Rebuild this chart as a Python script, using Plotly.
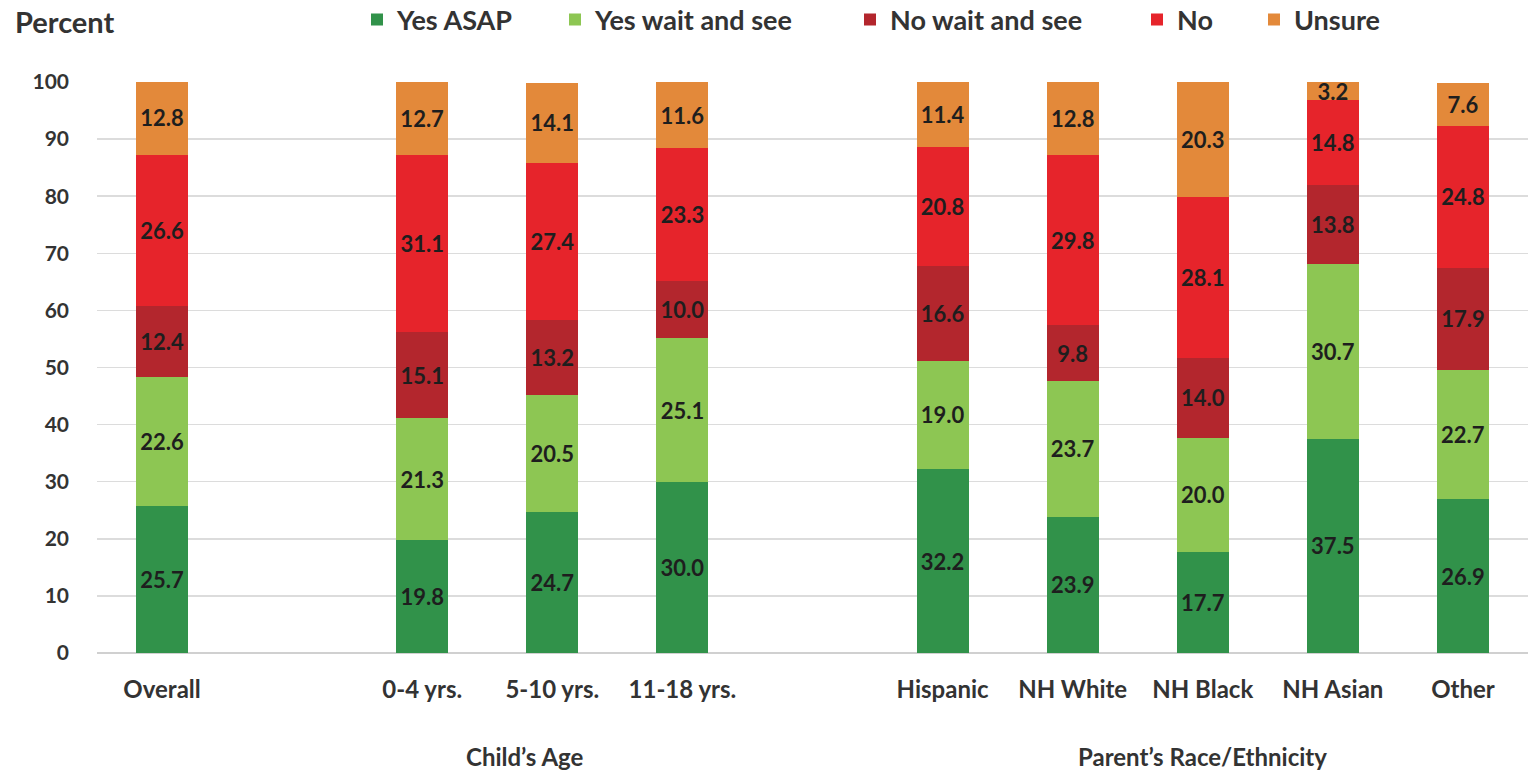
import plotly.graph_objects as go

categories = ["Overall", "0-4 yrs.", "5-10 yrs.", "11-18 yrs.",
              "Hispanic", "NH White", "NH Black", "NH Asian", "Other"]
slots = [0, 2, 3, 4, 6, 7, 8, 9, 10]

yes_asap = [25.7, 19.8, 24.7, 30.0, 32.2, 23.9, 17.7, 37.5, 26.9]
yes_wait = [22.6, 21.3, 20.5, 25.1, 19.0, 23.7, 20.0, 30.7, 22.7]
no_wait = [12.4, 15.1, 13.2, 10.0, 16.6, 9.8, 14.0, 13.8, 17.9]
no_vals = [26.6, 31.1, 27.4, 23.3, 20.8, 29.8, 28.1, 14.8, 24.8]
unsure = [12.8, 12.7, 14.1, 11.6, 11.4, 12.8, 20.3, 3.2, 7.6]

series_names = ["Yes ASAP", "Yes wait and see", "No wait and see", "No", "Unsure"]
series_values = [yes_asap, yes_wait, no_wait, no_vals, unsure]
colors = ["#31924A", "#8DC653", "#B3262D", "#E6242B", "#E3893A"]

group_labels = ["Child\u2019s Age", "Parent\u2019s Race/Ethnicity"]
group_centers = [2.79, 8]

# legend item left edges (pixels) for each separate legend box
legend_lefts = [357, 555, 850, 1137, 1254]

FONT = "Lato"
TXT = "#333333"
W, H = 1528, 770
ML, MR, MT, MB = 97, 0, 82, 117
PW = W - ML - MR
PH = H - MT - MB

fig = go.Figure()
legend_layout = {}
for i, (name, vals, col) in enumerate(zip(series_names, series_values, colors)):
    lname = "legend" if i == 0 else f"legend{i + 1}"
    fig.add_trace(go.Bar(
        x=slots, y=vals, name=name, width=0.4,
        marker=dict(color=col, line=dict(width=0)),
        text=[f"{v:.1f}" for v in vals],
        textposition="inside", insidetextanchor="middle",
        textfont=dict(family=FONT, size=22, color="#1E1E1E", weight="bold"),
        hoverinfo="skip", legend=lname, showlegend=True,
    ))
    legend_layout[lname] = dict(
        orientation="h", x=(legend_lefts[i] - ML) / PW, xanchor="left",
        y=(PH + MT - 20) / PH, yanchor="middle",
        font=dict(family=FONT, size=27, color=TXT, weight="bold"),
        bgcolor="rgba(0,0,0,0)", visible=True,
    )

fig.update_layout(
    barmode="stack",
    width=W, height=H,
    showlegend=True,
    margin=dict(l=ML, r=MR, t=MT, b=MB, autoexpand=False),
    plot_bgcolor="white", paper_bgcolor="white",
    uniformtext=dict(minsize=22, mode="show"),
    font=dict(family=FONT, color=TXT),
    xaxis=dict(range=[-0.5, 10.5], tickvals=slots, ticktext=categories,
               showgrid=False, zeroline=False, showline=False, ticks="",
               tickfont=dict(family=FONT, size=24, color=TXT, weight="bold"),
               ticklabelstandoff=20, fixedrange=True),
    yaxis=dict(range=[0, 100], dtick=10, showgrid=True, gridcolor="#DCDCDC",
               gridwidth=1.5, zeroline=True, zerolinecolor="#D0D0D0", zerolinewidth=2,
               tickfont=dict(family=FONT, size=21, color=TXT, weight="bold"),
               ticklabelstandoff=27, fixedrange=True),
    **legend_layout,
)

fig.add_annotation(text="Percent", xref="paper", yref="paper", x=(13 - ML) / PW,
                   y=(PH + MT - 22) / PH,
                   xanchor="left", yanchor="middle", showarrow=False,
                   font=dict(family=FONT, size=29, color=TXT, weight="bold"))
for lab, cx in zip(group_labels, group_centers):
    fig.add_annotation(text=lab, x=cx, xref="x", y=-0.182, yref="paper",
                       showarrow=False, xanchor="center", yanchor="middle",
                       font=dict(family=FONT, size=24, color=TXT, weight="bold"))

fig.write_html("out.html",
               config={"displayModeBar": False, "staticPlot": True},
               post_script="document.body.style.margin='0';")
